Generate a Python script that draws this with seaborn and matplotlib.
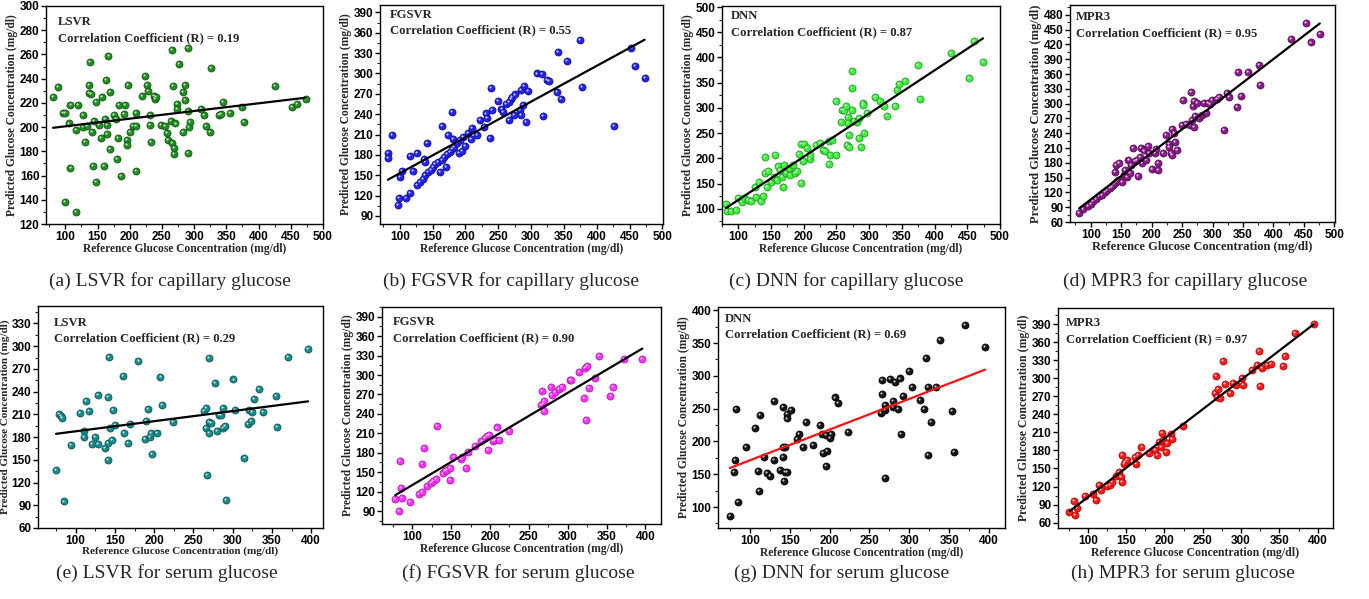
import numpy as np
import pandas as pd
import seaborn as sns
import matplotlib.pyplot as plt
from matplotlib.ticker import MultipleLocator, AutoMinorLocator
from matplotlib.transforms import offset_copy

# ---- capillary glucose: reference vs predicted (mg/dl) ----
cap_lsvr_x = [81, 88, 97, 100, 105, 108, 108, 99, 116, 116, 119, 127, 127, 130, 133, 136, 136, 138, 140, 141,
              143, 145, 147, 148, 153, 156, 157, 160, 162, 163, 164, 164, 167, 169, 170, 175, 178, 180, 182, 183,
              186, 191, 193, 195, 195, 197, 200, 205, 209, 209, 209, 219, 223, 227, 228, 231, 231, 233, 237, 239,
              240, 249, 255, 258, 260, 264, 266, 266, 267, 268, 268, 271, 273, 273, 277, 282, 283, 285, 286, 290,
              291, 291, 292, 294, 310, 315, 318, 324, 326, 338, 341, 345, 355, 374, 377, 425, 452, 459, 473]
cap_lsvr_y = [225, 233, 212, 212, 203, 218, 166, 138, 130, 198, 218, 210, 200, 188, 201, 235, 228, 254, 227, 196,
              168, 205, 221, 155, 202, 191, 225, 168, 207, 239, 194, 202, 259, 182, 229, 210, 207, 174, 191, 218,
              160, 211, 218, 189, 185, 235, 196, 201, 201, 212, 164, 226, 242, 235, 230, 202, 210, 188, 226, 223,
              225, 202, 201, 195, 189, 205, 264, 187, 234, 183, 178, 203, 219, 215, 252, 196, 229, 235, 222, 265,
              213, 179, 200, 204, 215, 210, 201, 196, 249, 210, 211, 221, 212, 217, 204, 234, 217, 219, 223]

cap_fgsvr_x = [82, 82, 88, 97, 99, 101, 104, 109, 116, 116, 120, 127, 127, 131, 136, 137, 138, 139, 141, 143,
               147, 151, 154, 158, 162, 164, 165, 168, 171, 172, 173, 176, 179, 180, 181, 183, 187, 190, 192, 195,
               197, 200, 204, 209, 210, 218, 223, 229, 231, 233, 237, 239, 241, 250, 255, 258, 262, 266, 267, 269,
               271, 274, 276, 283, 284, 285, 288, 290, 292, 296, 309, 316, 318, 325, 327, 339, 341, 345, 355, 374,
               378, 426, 453, 459, 473]
cap_fgsvr_y = [183, 176, 209, 106, 116, 147, 156, 117, 124, 178, 156, 183, 136, 140, 145, 174, 169, 150, 197, 154,
               157, 162, 166, 170, 154, 223, 173, 177, 162, 181, 210, 184, 243, 188, 204, 191, 197, 183, 202, 186,
               206, 193, 212, 203, 219, 210, 232, 221, 241, 234, 205, 279, 246, 259, 247, 243, 255, 258, 232, 262,
               266, 239, 269, 246, 275, 239, 254, 282, 229, 274, 300, 299, 238, 291, 289, 273, 332, 262, 319, 349,
               280, 222, 338, 311, 294]

cap_dnn_x = [81, 82, 89, 97, 100, 105, 108, 115, 119, 126, 127, 131, 135, 138, 141, 141, 144, 146, 150, 154,
             156, 159, 161, 164, 166, 169, 170, 173, 177, 179, 183, 187, 190, 193, 196, 196, 199, 201, 205, 210,
             210, 219, 225, 229, 233, 238, 239, 240, 243, 250, 250, 257, 259, 261, 264, 266, 268, 269, 269, 268,
             273, 274, 274, 277, 282, 284, 285, 288, 290, 291, 292, 296, 309, 316, 323, 327, 339, 342, 345, 355,
             374, 377, 425, 452, 460, 474]
cap_dnn_y = [110, 95, 95, 98, 121, 113, 122, 118, 115, 144, 124, 154, 116, 126, 171, 203, 143, 176, 154, 164,
             206, 158, 184, 177, 164, 143, 187, 172, 181, 167, 187, 172, 176, 209, 228, 151, 195, 228, 220, 199,
             207, 227, 230, 217, 214, 234, 189, 207, 236, 207, 314, 273, 295, 295, 303, 226, 283, 223, 247, 270,
             296, 373, 339, 275, 273, 280, 240, 223, 310, 306, 251, 290, 322, 313, 304, 285, 303, 336, 347, 354,
             385, 318, 409, 359, 432, 392]

cap_mpr3_x = [81, 88, 96, 100, 104, 109, 114, 118, 124, 127, 131, 135, 139, 142, 140, 141, 147, 145, 151, 154,
              156, 159, 162, 165, 166, 170, 172, 176, 177, 181, 182, 184, 188, 191, 194, 196, 200, 205, 207, 210,
              211, 219, 223, 228, 229, 232, 233, 234, 237, 238, 241, 250, 251, 256, 263, 265, 266, 268, 269, 270,
              271, 274, 277, 282, 286, 289, 292, 295, 299, 307, 311, 319, 324, 327, 340, 342, 347, 358, 376, 378,
              428, 454, 462, 476]
cap_mpr3_y = [78, 86, 93, 96, 102, 107, 112, 115, 120, 124, 128, 132, 137, 142, 161, 175, 179, 146, 142, 156,
              165, 152, 186, 159, 176, 211, 183, 186, 154, 192, 211, 180, 205, 186, 215, 200, 167, 199, 208, 180,
              165, 200, 237, 219, 213, 200, 196, 249, 240, 223, 206, 256, 308, 259, 257, 323, 267, 296, 306, 252,
              274, 301, 271, 277, 301, 281, 302, 300, 307, 310, 314, 247, 321, 314, 294, 365, 316, 365, 379, 338,
              431, 464, 424, 441]

# ---- serum glucose: reference vs predicted (mg/dl) ----
ser_lsvr_x = [75, 79, 81, 82, 85, 94, 105, 110, 111, 113, 117, 121, 124, 129, 129, 137, 141, 141, 141, 142,
              144, 146, 147, 150, 160, 162, 166, 169, 180, 188, 190, 192, 195, 196, 197, 203, 208, 210, 224, 264,
              266, 266, 267, 270, 270, 270, 272, 277, 280, 282, 285, 288, 287, 290, 292, 301, 303, 315, 319, 321,
              323, 324, 327, 334, 339, 355, 357, 371, 396]
ser_lsvr_y = [137, 211, 208, 205, 95, 170, 212, 188, 180, 227, 214, 171, 180, 235, 171, 165, 150, 233, 172, 286,
              192, 176, 216, 196, 260, 186, 172, 197, 280, 178, 201, 217, 180, 186, 158, 186, 259, 222, 200, 214,
              219, 192, 130, 284, 200, 185, 198, 251, 188, 209, 209, 219, 192, 194, 97, 256, 216, 153, 197, 216,
              201, 213, 230, 244, 213, 234, 193, 286, 296]

ser_fgsvr_x = [78, 83, 84, 85, 87, 97, 109, 112, 113, 115, 119, 124, 127, 132, 131, 139, 142, 145, 148, 148,
               153, 163, 164, 169, 172, 181, 189, 193, 196, 198, 199, 204, 207, 209, 211, 225, 265, 267, 268, 270,
               270, 278, 280, 284, 289, 293, 303, 304, 315, 321, 322, 325, 324, 327, 335, 340, 355, 358, 372, 396]
ser_fgsvr_y = [108, 90, 168, 125, 110, 104, 116, 120, 162, 187, 128, 133, 136, 222, 140, 148, 152, 153, 156, 138,
               173, 171, 174, 156, 181, 190, 198, 203, 206, 185, 208, 198, 200, 219, 200, 213, 254, 276, 256, 260,
               244, 281, 269, 274, 278, 282, 292, 293, 305, 264, 311, 314, 230, 280, 296, 329, 267, 282, 324, 324]

ser_dnn_x = [75, 80, 81, 82, 85, 95, 106, 110, 111, 113, 118, 122, 125, 130, 130, 138, 141, 141, 142, 143,
             144, 144, 146, 147, 146, 151, 159, 162, 167, 170, 179, 188, 190, 192, 195, 196, 197, 201, 202, 207,
             210, 223, 264, 266, 266, 269, 269, 270, 276, 280, 280, 282, 286, 288, 289, 292, 300, 303, 313, 318,
             321, 323, 324, 327, 333, 338, 354, 356, 370, 395]
ser_dnn_y = [87, 153, 172, 249, 108, 191, 220, 155, 125, 241, 176, 152, 148, 172, 261, 157, 176, 192, 252, 139,
             154, 192, 242, 235, 154, 248, 203, 212, 192, 229, 195, 225, 211, 183, 162, 210, 185, 206, 211, 267,
             258, 214, 243, 294, 273, 145, 256, 248, 295, 262, 252, 291, 250, 296, 211, 269, 307, 283, 263, 250,
             327, 179, 283, 229, 283, 354, 247, 184, 377, 344]

ser_mpr3_x = [76, 82, 83, 86, 96, 107, 111, 114, 117, 125, 129, 132, 137, 140, 143, 145, 145, 147, 149, 151,
              161, 163, 166, 170, 180, 187, 190, 193, 196, 197, 198, 202, 203, 209, 210, 224, 266, 267, 269, 270,
              272, 277, 279, 286, 289, 293, 301, 303, 314, 321, 323, 325, 327, 334, 339, 355, 357, 371, 395]
ser_mpr3_y = [78, 96, 72, 85, 104, 108, 97, 122, 114, 121, 123, 128, 137, 144, 136, 128, 172, 158, 161, 164,
              169, 158, 172, 185, 175, 181, 172, 194, 186, 209, 198, 178, 192, 208, 199, 221, 275, 304, 269, 283,
              267, 329, 291, 276, 293, 289, 301, 289, 314, 323, 346, 287, 318, 323, 324, 321, 337, 375, 391]

model_names = ["LSVR", "FGSVR", "DNN", "MPR3", "LSVR", "FGSVR", "DNN", "MPR3"]
r_values = ["0.19", "0.55", "0.87", "0.95", "0.29", "0.90", "0.69", "0.97"]
captions = ["(a) LSVR for capillary glucose", "(b) FGSVR for capillary glucose",
            "(c) DNN for capillary glucose", "(d) MPR3 for capillary glucose",
            "(e) LSVR for serum glucose", "(f) FGSVR for serum glucose",
            "(g) DNN for serum glucose", "(h) MPR3 for serum glucose"]

series = [(cap_lsvr_x, cap_lsvr_y), (cap_fgsvr_x, cap_fgsvr_y), (cap_dnn_x, cap_dnn_y), (cap_mpr3_x, cap_mpr3_y),
          (ser_lsvr_x, ser_lsvr_y), (ser_fgsvr_x, ser_fgsvr_y), (ser_dnn_x, ser_dnn_y), (ser_mpr3_x, ser_mpr3_y)]

# styling per panel: colour, edge, line colour, pixel box (l, t, r, b), xlim, ylim, ystep, text pos
W, H = 1369, 599
panels = [
    dict(c="#1f8f1f", e="#0c4a0c", lc="black", box=(46, 6, 323, 224), xl=(70, 500), yl=(120, 300), ys=20, tx=0.043, ty=(0.927, 0.853), lab=8.3),
    dict(c="#2323f0", e="#0a0a80", lc="black", box=(380, 5, 663, 224), xl=(70, 501), yl=(78, 401), ys=30, tx=0.035, ty=(0.955, 0.885), lab=8.3),
    dict(c="#3cf03c", e="#1a8a1a", lc="black", box=(722, 6, 1000, 224), xl=(75, 500), yl=(70, 502), ys=50, tx=0.032, ty=(0.955, 0.88), lab=8.3),
    dict(c="#8c1a8c", e="#4a0a4a", lc="black", box=(1070, 5, 1335, 222), xl=(66, 501), yl=(60, 500), ys=30, tx=0.022, ty=(0.945, 0.87), lab=9.0),
    dict(c="#168c8c", e="#0a4848", lc="black", box=(38, 306, 323, 528), xl=(52, 415), yl=(60, 353), ys=30, tx=0.056, ty=(0.923, 0.856), lab=8.0),
    dict(c="#ff33ff", e="#a010a0", lc="black", box=(382, 307, 661, 524), xl=(61, 420), yl=(70, 405), ys=30, tx=0.04, ty=(0.93, 0.857), lab=8.3),
    dict(c="#151515", e="#000000", lc="#ff1010", box=(718, 307, 1005, 528), xl=(60, 420), yl=(68, 405), ys=50, tx=0.024, ty=(0.946, 0.878), lab=8.3),
    dict(c="#ff1a1a", e="#a00000", lc="black", box=(1058, 308, 1333, 528), xl=(61, 420), yl=(51, 417), ys=30, tx=0.029, ty=(0.93, 0.86), lab=8.5),
]
cap_pos = [(170, 281), (511, 281), (846, 281), (1185, 281), (167, 573), (518, 573), (842, 573), (1183, 573)]

sns.set_theme(style="ticks")
plt.rcParams['font.family'] = ['Liberation Serif', 'DejaVu Serif']
plt.rcParams['axes.linewidth'] = 1.0

fig = plt.figure(figsize=(W / 100, H / 100), dpi=100)

for i, ((xs, ys), p) in enumerate(zip(series, panels)):
    l, t, r, b = p["box"]
    ax = fig.add_axes([l / W, 1 - b / H, (r - l) / W, (b - t) / H])
    df = pd.DataFrame({"ref": xs, "pred": ys})

    sns.scatterplot(data=df, x="ref", y="pred", ax=ax, s=26, color=p["c"],
                    edgecolor=p["e"], linewidth=0.5, zorder=3)
    # little highlight so the dots look like the shaded balls of the original
    hl = offset_copy(ax.transData, fig=fig, x=-0.7, y=0.7, units="points")
    ax.scatter(df["ref"], df["pred"], s=2.5, color="white", alpha=0.75,
               linewidths=0, transform=hl, zorder=4)
    sns.regplot(data=df, x="ref", y="pred", ax=ax, scatter=False, ci=None,
                line_kws=dict(color=p["lc"], lw=1.6, zorder=5))

    ax.set_xlim(*p["xl"])
    ax.set_ylim(*p["yl"])
    ax.xaxis.set_major_locator(MultipleLocator(50))
    ax.yaxis.set_major_locator(MultipleLocator(p["ys"]))
    ax.xaxis.set_minor_locator(AutoMinorLocator(2))
    ax.yaxis.set_minor_locator(AutoMinorLocator(2))
    ax.tick_params(which="major", direction="out", length=3.5, width=1.0, pad=1.2,
                   top=False, right=False, colors="black")
    ax.tick_params(which="minor", direction="out", length=2, width=0.8, top=False, right=False)
    for lbl in ax.get_xticklabels() + ax.get_yticklabels():
        lbl.set_family(["Liberation Sans", "DejaVu Sans"])
        lbl.set_fontweight("bold")
        lbl.set_fontsize(8.5)
    for sp in ax.spines.values():
        sp.set_visible(True)
        sp.set_color("black")
        sp.set_linewidth(1.0)

    ax.set_xlabel("Reference Glucose Concentration (mg/dl)", fontsize=p["lab"], fontweight="bold", labelpad=0)
    ax.set_ylabel("Predicted Glucose Concentration (mg/dl)", fontsize=p["lab"], fontweight="bold", labelpad=1)

    ax.text(p["tx"], p["ty"][0], model_names[i], transform=ax.transAxes, fontsize=9.1,
            fontweight="bold", va="center", ha="left")
    ax.text(p["tx"], p["ty"][1], f"Correlation Coefficient (R) = {r_values[i]}", transform=ax.transAxes,
            fontsize=9.1, fontweight="bold", va="center", ha="left")

    cx, cy = cap_pos[i]
    fig.text(cx / W, 1 - cy / H, captions[i], fontsize=14, ha="center", va="center")

fig.savefig("out.png", dpi=100, facecolor="white")
